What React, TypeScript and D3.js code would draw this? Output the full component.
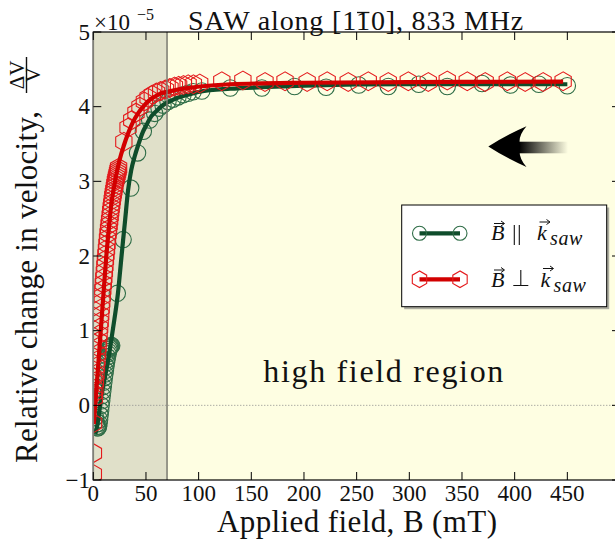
import React, { useEffect, useRef, useState } from 'react';
import * as d3 from 'd3';

// ---------- data (values in units of 1e-5) ----------
const xTicks = [0, 50, 100, 150, 200, 250, 300, 350, 400, 450, 500];
const xTickLabels = ['0', '50', '100', '150', '200', '250', '300', '350', '400', '450', ''];
const yTicks = [-1, 0, 1, 2, 3, 4, 5];
const yTickLabels = ['\u22121', '0', '1', '2', '3', '4', '5'];

// B || k_saw : measured points
const parB = [
  2.0, 2.5, 3.0, 3.5, 4.0, 4.5, 5.0, 5.5, 6.0, 6.5, 7.0, 7.5, 8.0, 8.5, 9.0, 9.5, 10.0, 10.5, 11.0, 11.5,
  12.0, 12.5, 13.0, 13.5, 14.0, 14.5, 15.0, 15.5, 16.0, 16.5, 17.0, 17.5,
  22.8, 28.3, 35.5, 42.0, 47.5, 53.5, 58.3, 62.4, 66.2, 70.9, 75.7, 80.4, 85.2, 90.0, 94.7, 103,
  130, 160, 191, 221, 252, 280, 309, 336, 369, 396, 423, 450,
];
const parY = [
  -0.16, -0.21, -0.25, -0.28, -0.3, -0.3, -0.28, -0.24, -0.19, -0.13, -0.07, 0.0, 0.06, 0.13, 0.19, 0.25, 0.31, 0.37, 0.42, 0.47,
  0.52, 0.57, 0.61, 0.65, 0.69, 0.72, 0.75, 0.77, 0.78, 0.79, 0.8, 0.8,
  1.5, 2.22, 2.91, 3.38, 3.67, 3.82, 3.91, 3.98, 4.02, 4.07, 4.1, 4.13, 4.16, 4.18, 4.2, 4.21,
  4.25, 4.25, 4.27, 4.26, 4.29, 4.27, 4.3, 4.27, 4.31, 4.29, 4.3, 4.28,
];
// B || k_saw : fit line
const parFitB = [2, 4, 6, 8, 10, 12.3, 15, 17, 20, 23.4, 26, 28.2, 30, 33, 36, 39.6, 42.5, 47, 50.3, 55, 59.8, 66, 71, 80, 90, 101, 130, 160, 200, 300, 450];
const parFitY = [-0.38, -0.25, -0.05, 0.15, 0.3, 0.47, 0.68, 0.87, 1.15, 1.5, 1.88, 2.2, 2.45, 2.88, 3.15, 3.35, 3.48, 3.66, 3.75, 3.87, 3.94, 4.02, 4.06, 4.12, 4.16, 4.2, 4.24, 4.26, 4.28, 4.3, 4.3];

// B _|_ k_saw : measured points
const perpB = [
  0.05, 0.1, 0.2, 0.3, 0.4,
  1.0, 1.5, 2.0, 2.5, 3.0, 3.5, 4.0, 4.5, 5.0, 5.5, 6.0, 6.5, 7.0, 7.5, 8.0, 8.5, 9.0, 9.5, 10.0, 10.5,
  11.0, 11.5, 12.0, 12.5, 13.0, 13.5, 14.0, 14.5, 15.0, 15.5, 16.0, 16.5, 17.0, 17.5, 18.0, 18.5, 19.0,
  19.5, 20.0, 20.5, 21.0, 21.5, 22.0, 22.5, 23.0, 23.5, 24.0,
  29, 33, 36.5, 40.5, 44.3, 48.5, 52, 56, 60, 64, 68.5, 72.8, 77, 81, 85.5, 90, 95, 101,
  122, 142, 163, 182, 203, 222, 242, 261, 280, 299, 318, 336, 355, 372, 393, 410, 427, 446,
];
const perpY = [
  -0.92, -0.64, -0.24, 0.16, 0.38,
  0.1, 0.22, 0.32, 0.42, 0.52, 0.6, 0.69, 0.78, 0.86, 0.95, 1.04, 1.12, 1.21, 1.3, 1.38, 1.46, 1.55, 1.63, 1.71, 1.79,
  1.87, 1.95, 2.02, 2.09, 2.16, 2.23, 2.3, 2.36, 2.42, 2.48, 2.54, 2.6, 2.65, 2.7, 2.75, 2.8, 2.84,
  2.88, 2.92, 2.96, 3.0, 3.03, 3.06, 3.09, 3.12, 3.15, 3.18,
  3.53, 3.72, 3.82, 3.92, 4.0, 4.07, 4.12, 4.16, 4.19, 4.21, 4.23, 4.25, 4.27, 4.28, 4.29, 4.3, 4.3, 4.31,
  4.34, 4.35, 4.33, 4.34, 4.33, 4.34, 4.33, 4.34, 4.33, 4.34, 4.33, 4.35, 4.34, 4.33, 4.34, 4.33, 4.33, 4.34,
];
// B _|_ k_saw : fit line
const perpFitB = [0.5, 2.9, 5, 7.6, 10, 12.3, 14.5, 17, 20, 25, 29, 33, 37.5, 42.5, 48, 53.5, 59, 64.6, 71, 77, 90, 101, 130, 200, 300, 446];
const perpFitY = [-0.25, 0.2, 0.6, 1.1, 1.56, 1.99, 2.33, 2.68, 2.95, 3.29, 3.48, 3.64, 3.79, 3.91, 4.01, 4.09, 4.14, 4.18, 4.2, 4.22, 4.25, 4.27, 4.3, 4.32, 4.33, 4.335];

const lowFieldLimit = 70;
const titleText = 'SAW along [110], 833 MHz';
const barredCharIndex = 12;

// ---------- styles ----------
const FONT = "'Liberation Serif', 'DejaVu Serif', serif";
const BG = '#fefee2';
const SHADE = '#e0e0c9';
const GREEN_M = '#2f6d47';
const GREEN_L = '#0f4d2b';
const RED_M = '#e41a1c';
const RED_L = '#d20000';

const hexPath = (cx: number, cy: number, R: number) => {
  const pts = d3.range(6).map((k) => {
    const a = Math.PI / 2 + (k * Math.PI) / 3;
    return [cx + R * Math.cos(a), cy - R * Math.sin(a)];
  });
  return 'M' + pts.map((p) => p[0].toFixed(2) + ',' + p[1].toFixed(2)).join('L') + 'Z';
};

export default function App() {
  const left = 93.3, right = 620, top = 32, bottom = 480;
  const x = d3.scaleLinear().domain([0, 500]).range([left, right]);
  const y = d3.scaleLinear().domain([-1, 5]).range([bottom, top]);

  const titleRef = useRef<SVGTextElement>(null);
  const [bar, setBar] = useState<[number, number] | null>(null);
  useEffect(() => {
    const t = titleRef.current;
    if (!t) return;
    try {
      const s = t.getStartPositionOfChar(barredCharIndex).x;
      const e = t.getEndPositionOfChar(barredCharIndex).x;
      setBar([s, e]);
    } catch (err) {
      /* ignore */
    }
  }, []);

  const line = d3
    .line<[number, number]>()
    .x((d) => x(d[0]))
    .y((d) => y(d[1]))
    .curve(d3.curveMonotoneX);

  const parFit = line(parFitB.map((b, i) => [b, parFitY[i]] as [number, number])) || '';
  const perpFit = line(perpFitB.map((b, i) => [b, perpFitY[i]] as [number, number])) || '';

  const tickLen = 8;
  const legX0 = 401.7, legY0 = 205, legW = 205, legH = 101.7;
  const row1 = 233.3, row2 = 279.3;

  return (
    <svg width={615} height={541} style={{ position: 'absolute', left: 0, top: 0 }} fontFamily={FONT}>
      <defs>
        <clipPath id="plotclip">
          <rect x={left} y={top} width={right - left} height={bottom - top} />
        </clipPath>
        <linearGradient id="tailgrad" x1="0" x2="1" y1="0" y2="0">
          <stop offset="0" stopColor="#000" />
          <stop offset="1" stopColor={BG} />
        </linearGradient>
      </defs>
      <rect x={0} y={0} width={615} height={541} fill="#fff" />
      {/* backgrounds */}
      <rect x={left} y={top} width={right - left} height={bottom - top} fill={BG} />
      <rect x={x(0)} y={top} width={x(lowFieldLimit) - x(0)} height={bottom - top} fill={SHADE} />

      {/* zero line */}
      <line x1={left} x2={right} y1={y(0)} y2={y(0)} stroke="#8a8a8a" strokeWidth={1} strokeDasharray="1,2" />

      {/* text in plot */}
      <text x={383.3} y={381.7} fontSize={32} textAnchor="middle" textLength={240} lengthAdjust="spacing" fill="#111">
        high field region
      </text>

      {/* arrow */}
      <rect x={519} y={141.7} width={49} height={11.6} fill="url(#tailgrad)" />
      <path d="M488.3,146.5 Q506,135 526.5,126.2 Q517,137 520.5,146.5 Q517,156 526.5,167 Q506,158 488.3,146.5 Z" fill="#000" />

      <g clipPath="url(#plotclip)">
        {parB.map((b, i) => (
          <circle key={'p' + i} cx={x(b)} cy={y(parY[i])} r={8.2} fill="none" stroke={GREEN_M} strokeWidth={1.1} />
        ))}
        <path d={parFit} fill="none" stroke={GREEN_L} strokeWidth={4.2} />
        {perpB.map((b, i) => (
          <path key={'q' + i} d={hexPath(x(b), y(perpY[i]), 9.4)} fill="none" stroke={RED_M} strokeWidth={1.1} />
        ))}
        <path d={perpFit} fill="none" stroke={RED_L} strokeWidth={4.2} />
      </g>

      {/* low-field boundary */}
      <line x1={x(lowFieldLimit)} x2={x(lowFieldLimit)} y1={top} y2={bottom} stroke="#7a7a70" strokeWidth={1.5} />

      {/* spines */}
      <rect x={left} y={top} width={right - left} height={bottom - top} fill="none" stroke="#000" strokeWidth={1.2} />
      <line x1={left} x2={left} y1={top} y2={bottom} stroke="#808078" strokeWidth={1.6} />

      {/* ticks */}
      {xTicks.map((t, i) => (
        <g key={'xt' + i}>
          <line x1={x(t)} x2={x(t)} y1={bottom} y2={bottom - tickLen} stroke="#000" strokeWidth={1} />
          <line x1={x(t)} x2={x(t)} y1={top} y2={top + tickLen} stroke="#000" strokeWidth={1} />
          {xTickLabels[i] && (
            <text x={x(t)} y={501} fontSize={23} textAnchor="middle" fill="#111">
              {xTickLabels[i]}
            </text>
          )}
        </g>
      ))}
      {yTicks.map((t, i) => (
        <g key={'yt' + i}>
          <line x1={left} x2={left + tickLen} y1={y(t)} y2={y(t)} stroke="#000" strokeWidth={1} />
          <line x1={right} x2={right - tickLen} y1={y(t)} y2={y(t)} stroke="#000" strokeWidth={1} />
          <text x={90} y={y(t) + 7.8} fontSize={23} textAnchor="end" fill="#111">
            {yTickLabels[i]}
          </text>
        </g>
      ))}

      {/* offset text */}
      <text x={94} y={30} fontSize={23} fill="#111">
        ×10
      </text>
      <text x={137} y={20} fontSize={16} fill="#111">
        −5
      </text>

      {/* title */}
      <text ref={titleRef} x={356} y={30} fontSize={28} textAnchor="middle" letterSpacing={0.85} fill="#111">
        {titleText}
      </text>
      {bar && <line x1={bar[0] + 1} x2={bar[1] - 1.5} y1={12.5} y2={12.5} stroke="#111" strokeWidth={1.3} />}

      {/* x label */}
      <text x={357} y={532} fontSize={31} textAnchor="middle" textLength={280} lengthAdjust="spacing" fill="#111">
        Applied field, B (mT)
      </text>

      {/* y label */}
      <g transform="translate(37,463) rotate(-90)">
        <text x={0} y={0} fontSize={31} textLength={352} lengthAdjust="spacing" fill="#111">
          Relative change in velocity,
        </text>
        <text x={388} y={-13} fontSize={21} textAnchor="middle" fill="#111">
          ΔV
        </text>
        <line x1={370} x2={406} y1={-10.5} y2={-10.5} stroke="#111" strokeWidth={1.4} />
        <text x={388} y={3} fontSize={21} textAnchor="middle" fill="#111">
          V
        </text>
      </g>

      {/* legend */}
      <rect x={legX0 + 2.5} y={legY0 + 2.5} width={legW} height={legH} fill="#777" opacity={0.6} />
      <rect x={legX0} y={legY0} width={legW} height={legH} fill="#fff" stroke="#000" strokeWidth={1} />
      <line x1={419.5} x2={460} y1={row1} y2={row1} stroke={GREEN_L} strokeWidth={4.2} />
      <circle cx={419.5} cy={row1} r={7} fill="none" stroke={GREEN_M} strokeWidth={1.1} />
      <circle cx={460} cy={row1} r={7} fill="none" stroke={GREEN_M} strokeWidth={1.1} />
      <line x1={419.5} x2={460} y1={row2} y2={row2} stroke={RED_L} strokeWidth={4.2} />
      <path d={hexPath(419.5, row2, 8.3)} fill="none" stroke={RED_M} strokeWidth={1.1} />
      <path d={hexPath(460, row2, 8.3)} fill="none" stroke={RED_M} strokeWidth={1.1} />

      <g fill="#111" stroke="none">
        <text x={491} y={240} fontSize={22} fontStyle="italic">B</text>
        <path d="M494,223.5 L504,223.5 M501,221 L504.5,223.5 L501,226" stroke="#111" strokeWidth={1} fill="none" />
        <path d="M514.3,225 L514.3,245 M519.3,225 L519.3,245" stroke="#111" strokeWidth={1.1} fill="none" />
        <text x={537} y={240} fontSize={22} fontStyle="italic">k</text>
        <path d="M539.5,222 L549.5,222 M546.5,219.5 L550,222 L546.5,224.5" stroke="#111" strokeWidth={1} fill="none" />
        <text x={550} y={245} fontSize={20} fontStyle="italic" letterSpacing={0.6}>saw</text>

        <text x={491} y={286.7} fontSize={22} fontStyle="italic">B</text>
        <path d="M494,270 L504,270 M501,267.5 L504.5,270 L501,272.5" stroke="#111" strokeWidth={1} fill="none" />
        <path d="M520.8,270 L520.8,285.5 M513.3,285.5 L528.3,285.5" stroke="#111" strokeWidth={1.1} fill="none" />
        <text x={540.5} y={286.7} fontSize={22} fontStyle="italic">k</text>
        <path d="M543,268.5 L553,268.5 M550,266 L553.5,268.5 L550,271" stroke="#111" strokeWidth={1} fill="none" />
        <text x={553.5} y={291.7} fontSize={20} fontStyle="italic" letterSpacing={0.6}>saw</text>
      </g>
    </svg>
  );
}
